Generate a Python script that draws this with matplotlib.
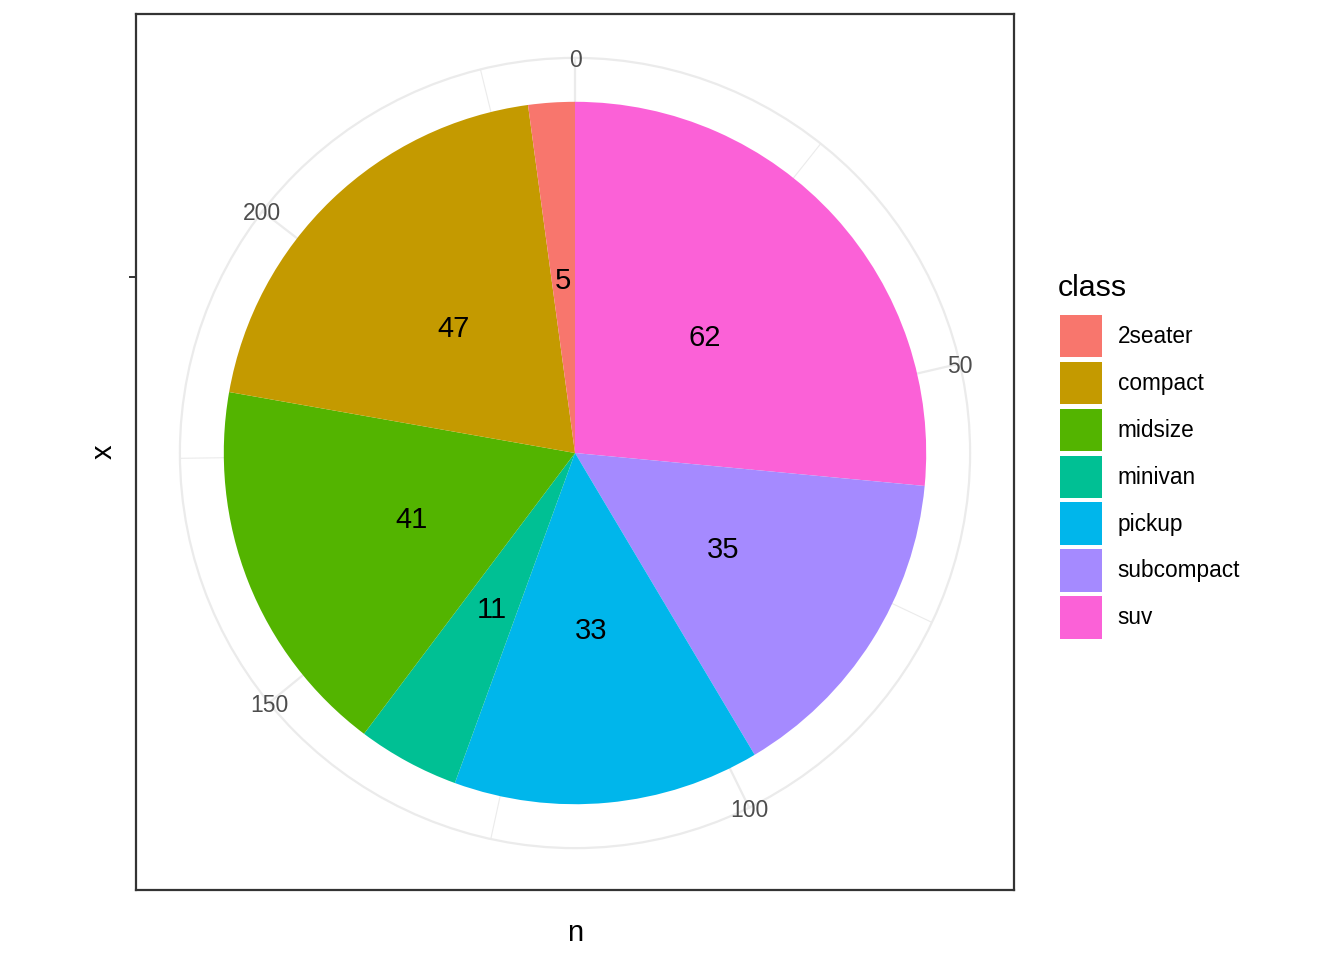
import numpy as np
import matplotlib.pyplot as plt
from matplotlib.patches import Patch, Circle

plt.rcParams['font.family'] = ['Liberation Sans', 'DejaVu Sans']

classes = ['2seater', 'compact', 'midsize', 'minivan', 'pickup', 'subcompact', 'suv']
counts = [5, 47, 41, 11, 33, 35, 62]
colors = ['#F8766D', '#C49A00', '#53B400', '#00C094', '#00B6EB', '#A58AFF', '#FB61D7']
major_breaks = [0, 50, 100, 150, 200]
minor_breaks = [25, 75, 125, 175, 225]

total = sum(counts)
grid_col = '#EBEBEB'

fig = plt.figure(figsize=(13.44, 9.6), dpi=100)
ax = fig.add_axes([136 / 1344, 70 / 960, 878 / 1344, 876 / 960])

# ggplot stacks the first level on top, so the pie runs clockwise from the last class
vals = counts[::-1]
cols = colors[::-1]

def to_angle(v):
    return np.deg2rad(90 - 360 * v / total)

# theta grid lines and outer circle
for b in minor_breaks:
    a = to_angle(b)
    ax.plot([0, 0.45 * np.cos(a)], [0, 0.45 * np.sin(a)], color=grid_col, lw=0.8, zorder=0)
for b in major_breaks:
    a = to_angle(b)
    ax.plot([0, 0.45 * np.cos(a)], [0, 0.45 * np.sin(a)], color=grid_col, lw=1.6, zorder=0)
ax.add_patch(Circle((0, 0), 0.45, fill=False, ec=grid_col, lw=1.6, zorder=0))
ax.add_patch(Circle((0, 0), 0.2, fill=False, ec=grid_col, lw=1.6, zorder=0))

ax.pie(vals, colors=cols, startangle=90, counterclock=False, radius=0.4,
       center=(0, 0), frame=True, wedgeprops=dict(linewidth=0, zorder=2))

# count labels at the middle of each stacked slice
cum = np.cumsum(vals)
mids = cum - np.array(vals) / 2
for v, m in zip(vals, mids):
    a = to_angle(m)
    ax.text(0.2 * np.cos(a), 0.2 * np.sin(a), str(v), ha='center', va='center_baseline',
            fontsize=21, color='black', zorder=3)

for b in major_breaks:
    a = to_angle(b)
    ax.text(0.45 * np.cos(a), 0.45 * np.sin(a), str(b), ha='center', va='center_baseline',
            fontsize=16.5, color='#4D4D4D', zorder=3)

ax.set_xlim(-0.5, 0.5)
ax.set_ylim(-0.4977, 0.5)
ax.set_aspect('auto')
ax.set_xticks([])
ax.set_yticks([0.2])
ax.set_yticklabels([''])
ax.tick_params(axis='y', length=5, width=1.4, color='#333333')
for s in ax.spines.values():
    s.set_color('#333333')
    s.set_linewidth(1.6)

ax.set_xlabel('n', fontsize=21, labelpad=21)
ax.set_ylabel('x', fontsize=21, labelpad=5)

# legend: title as its own text so the gap to the keys matches
fig.text(1058 / 1344, 1 - 296 / 960, 'class', fontsize=21.8, ha='left', va='baseline')
handles = [Patch(facecolor=c, edgecolor='none', linewidth=0) for c in colors]
leg = fig.legend(handles, classes, loc='upper left',
                 bbox_to_anchor=(1060 / 1344, 1 - 315 / 960), frameon=False,
                 fontsize=16.3, handlelength=1.85, handleheight=2.5,
                 labelspacing=0.2, handletextpad=0.7, borderpad=0, borderaxespad=0)

fig.savefig('out.png', dpi=100, facecolor='white')
